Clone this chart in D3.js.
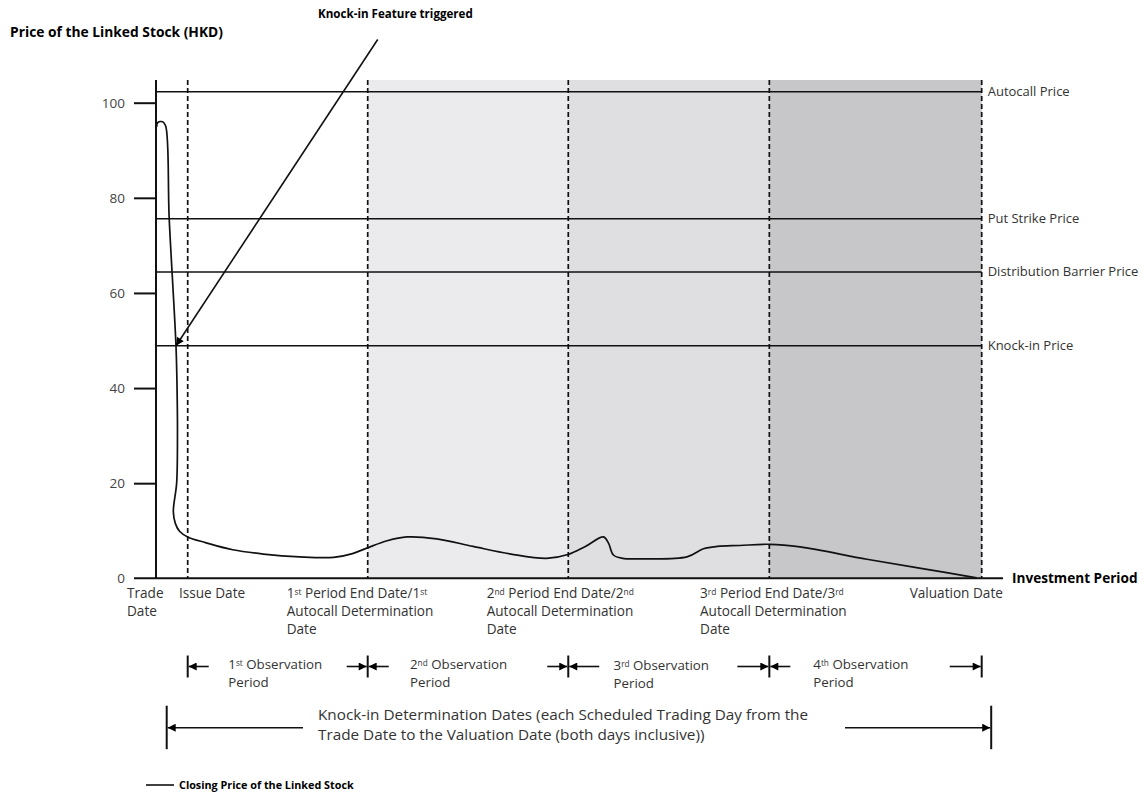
<!DOCTYPE html>
<html>
<head>
<meta charset="utf-8">
<script src="https://cdn.jsdelivr.net/npm/d3@7"></script>
<style>
body { margin: 0; background: #fff; }
text { font-family: "Open Sans", sans-serif; }
</style>
</head>
<body>
<div id="chart"></div>
<script>
// closing price path (x = position in the investment period, 0..100; y = HKD)
var priceX = [0.08, 0.2, 0.8, 1.17, 1.6, 2.42, 2.55, 2.6, 2.5, 2.1, 2.35, 2.85, 3.84, 6.0, 9.3, 13.0, 17.4, 21.5, 23.8, 25.6,
	28.0, 30.4, 34.0, 38.4, 43.0, 47.3, 49.9, 52.0, 54.2, 54.8, 55.4, 56.5, 58.6, 64.3, 66.3, 68.0, 70.7, 74.3, 78.0, 86.1, 93.0, 99.4];
var priceY = [94.9, 95.8, 96.0, 95.1, 75.6, 48.9, 40, 30, 20, 14, 11.5, 9.9, 8.7, 7.5, 6.0, 5.1, 4.5, 4.4, 5.2, 6.4,
	7.9, 8.7, 8.3, 6.7, 5.1, 4.2, 5.0, 6.7, 8.7, 7.4, 4.9, 4.2, 4.1, 4.5, 6.2, 6.7, 6.9, 7.15, 6.6, 4.0, 2.0, 0.1];

var yTicks = [0, 20, 40, 60, 80, 100];

// price levels
var levelNames = ["Autocall Price", "Put Strike Price", "Distribution Barrier Price", "Knock-in Price"];
var levelValues = [102.3, 75.6, 64.4, 48.9];

// key dates on the x axis
var dateValues = [0, 3.84, 25.64, 49.93, 74.28, 100];
var dateNames = [
	["Trade", "Date"],
	["Issue Date"],
	["1^st Period End Date/1^st", "Autocall Determination", "Date"],
	["2^nd Period End Date/2^nd", "Autocall Determination", "Date"],
	["3^rd Period End Date/3^rd", "Autocall Determination", "Date"],
	["Valuation Date"]
];
var dashedDates = [3.84, 25.64, 49.93, 74.28, 100];

// shaded autocall periods
var shadeFrom = [25.64, 49.93, 74.28];
var shadeTo = [49.93, 74.28, 100];

// observation periods
var obsFrom = [3.84, 25.64, 49.93, 74.28];
var obsTo = [25.64, 49.93, 74.28, 100];
var obsNames = ["1^st Observation", "2^nd Observation", "3^rd Observation", "4^th Observation"];

var kiText = ["Knock-in Determination Dates (each Scheduled Trading Day from the",
	"Trade Date to the Valuation Date (both days inclusive))"];

// knock-in annotation arrow (from, to) in data units
var noteFrom = [26.85, 113.3];
var noteTo = [2.42, 48.9];

// ---- layout / styles ----
var W = 1144, H = 796;
var shadeFill = ["#ebebed", "#dfdfe1", "#c7c7c9"];
var dateDx = [-29, -8.7, -81, -81.6, -69.3, -72];
var obsDx = [40.6, 42.3, 45.3, 44];
var obsArrowLen = [[21, 21], [21, 21], [31, 32], [21, 32]];

var svg = d3.select("#chart")
	.append("svg")
	.attr("width", W)
	.attr("height", H);

var defs = svg.append("defs");
defs.append("marker")
	.attr("id", "head")
	.attr("viewBox", "0 0 10 10")
	.attr("refX", 10)
	.attr("refY", 5)
	.attr("markerUnits", "userSpaceOnUse")
	.attr("markerWidth", 11)
	.attr("markerHeight", 8)
	.attr("orient", "auto")
	.append("path")
	.attr("d", "M0,0L10,5L0,10Z")
	.attr("fill", "#000");

var x = d3.scaleLinear().domain([0, 100]).range([156, 981.7]);
var y = d3.scaleLinear().domain([0, 100]).range([578.3, 102.7]);
var plotTop = 80;

// text helper: "^xx" becomes a superscript
function addRich(sel, str) {
	str.split(/(\^[a-z]+)/).forEach(function (part) {
		if (!part) return;
		if (part[0] == "^") {
			sel.append("tspan")
				.attr("baseline-shift", "35%")
				.style("font-size", "0.62em")
				.text(part.slice(1));
		} else {
			sel.append("tspan").text(part);
		}
	});
}

// shading
svg.selectAll(".shade")
	.data(shadeFrom)
	.enter()
	.append("rect")
	.attr("x", function (d) { return x(d); })
	.attr("y", plotTop)
	.attr("width", function (d, i) { return x(shadeTo[i]) - x(d); })
	.attr("height", y(0) - plotTop)
	.attr("fill", function (d, i) { return shadeFill[i]; });

// level lines
svg.selectAll(".level")
	.data(levelValues)
	.enter()
	.append("line")
	.attr("x1", x(0))
	.attr("x2", x(100))
	.attr("y1", function (d) { return y(d); })
	.attr("y2", function (d) { return y(d); })
	.attr("stroke", "#111")
	.attr("stroke-width", 1.6);

svg.selectAll(".levelLabel")
	.data(levelValues)
	.enter()
	.append("text")
	.attr("x", x(100) + 6)
	.attr("y", function (d) { return y(d); })
	.attr("dy", "0.3em")
	.style("font-size", "13px")
	.attr("fill", "#333")
	.text(function (d, i) { return levelNames[i]; });

// dashed date lines
svg.selectAll(".dash")
	.data(dashedDates)
	.enter()
	.append("line")
	.attr("x1", function (d) { return x(d); })
	.attr("x2", function (d) { return x(d); })
	.attr("y1", plotTop)
	.attr("y2", y(0))
	.attr("stroke", "#111")
	.attr("stroke-width", 1.7)
	.attr("stroke-dasharray", "5,3");

// y axis
var yAxis = svg.append("g")
	.attr("transform", "translate(" + x(0) + ",0)")
	.call(d3.axisLeft(y).tickValues(yTicks).tickSize(22).tickPadding(9));
yAxis.select(".domain").remove();
yAxis.selectAll(".tick line").attr("stroke", "#111").attr("stroke-width", 2);
yAxis.selectAll(".tick text")
	.style("font-size", "13.5px")
	.style("font-family", "Open Sans")
	.attr("fill", "#444");
yAxis.selectAll(".tick").filter(function (d) { return d == 0; }).select("line").remove();

svg.append("line")
	.attr("x1", x(0)).attr("x2", x(0))
	.attr("y1", plotTop).attr("y2", y(0))
	.attr("stroke", "#111").attr("stroke-width", 2);

// x axis
svg.append("line")
	.attr("x1", x(0) - 22).attr("x2", 1003)
	.attr("y1", y(0)).attr("y2", y(0))
	.attr("stroke", "#111").attr("stroke-width", 2);

svg.append("text")
	.attr("x", 1012)
	.attr("y", y(0))
	.attr("dy", "0.35em")
	.style("font-size", "13.6px")
	.style("font-weight", "bold")
	.text("Investment Period");

// date labels
dateValues.forEach(function (d, i) {
	var t = svg.append("text")
		.style("font-size", "13.6px")
		.attr("fill", "#333");
	dateNames[i].forEach(function (line, j) {
		var row = t.append("tspan")
			.attr("x", x(d) + dateDx[i])
			.attr("y", y(0) + 20 + j * 17.8);
		addRich(row, line);
	});
});

// price curve
var line = d3.line()
	.x(function (d, i) { return x(priceX[i]); })
	.y(function (d, i) { return y(priceY[i]); })
	.curve(d3.curveCatmullRom.alpha(0.5));

svg.append("path")
	.datum(priceY)
	.attr("d", line)
	.attr("fill", "none")
	.attr("stroke", "#111")
	.attr("stroke-width", 1.7);

// knock-in annotation
svg.append("line")
	.attr("x1", x(noteFrom[0])).attr("y1", y(noteFrom[1]))
	.attr("x2", x(noteTo[0])).attr("y2", y(noteTo[1]))
	.attr("stroke", "#111")
	.attr("stroke-width", 1.6)
	.attr("marker-end", "url(#head)");

svg.append("text")
	.attr("x", 318)
	.attr("y", 18)
	.style("font-size", "11.6px")
	.style("font-weight", "bold")
	.text("Knock-in Feature triggered");

svg.append("text")
	.attr("x", 10)
	.attr("y", 37)
	.style("font-size", "13.8px")
	.style("font-weight", "bold")
	.text("Price of the Linked Stock (HKD)");

// observation periods
var obsY = 666.5;
var bounds = obsFrom.concat([obsTo[obsTo.length - 1]]);
svg.selectAll(".obsBar")
	.data(bounds)
	.enter()
	.append("line")
	.attr("x1", function (d) { return x(d); })
	.attr("x2", function (d) { return x(d); })
	.attr("y1", obsY - 11)
	.attr("y2", obsY + 11)
	.attr("stroke", "#111")
	.attr("stroke-width", 2);

obsFrom.forEach(function (a, i) {
	var b = obsTo[i];
	svg.append("line")
		.attr("x1", x(a) + obsArrowLen[i][0]).attr("x2", x(a) + 1)
		.attr("y1", obsY).attr("y2", obsY)
		.attr("stroke", "#111").attr("stroke-width", 1.6)
		.attr("marker-end", "url(#head)");
	svg.append("line")
		.attr("x1", x(b) - obsArrowLen[i][1]).attr("x2", x(b) - 1)
		.attr("y1", obsY).attr("y2", obsY)
		.attr("stroke", "#111").attr("stroke-width", 1.6)
		.attr("marker-end", "url(#head)");
	var t = svg.append("text")
		.style("font-size", "13.3px")
		.attr("fill", "#333");
	var r1 = t.append("tspan").attr("x", x(a) + obsDx[i]).attr("y", obsY + 2 + (i == 2 ? 1.5 : 0));
	addRich(r1, obsNames[i]);
	t.append("tspan").attr("x", x(a) + obsDx[i]).attr("y", obsY + 20 + (i == 2 ? 1.5 : 0)).text("Period");
});

// knock-in determination dates
var kiY = 727.7;
[x(0) + 10.7, x(100) + 9.5].forEach(function (bx) {
	svg.append("line")
		.attr("x1", bx).attr("x2", bx)
		.attr("y1", kiY - 22).attr("y2", kiY + 21.5)
		.attr("stroke", "#111").attr("stroke-width", 2);
});
svg.append("line")
	.attr("x1", 303).attr("x2", x(0) + 11.7)
	.attr("y1", kiY).attr("y2", kiY)
	.attr("stroke", "#111").attr("stroke-width", 1.6)
	.attr("marker-end", "url(#head)");
svg.append("line")
	.attr("x1", 845).attr("x2", x(100) + 8.5)
	.attr("y1", kiY).attr("y2", kiY)
	.attr("stroke", "#111").attr("stroke-width", 1.6)
	.attr("marker-end", "url(#head)");
svg.selectAll(".kiText")
	.data(kiText)
	.enter()
	.append("text")
	.attr("x", 318)
	.attr("y", function (d, i) { return 720 + i * 19.5; })
	.style("font-size", "15.3px")
	.attr("fill", "#333")
	.text(function (d) { return d; });

// legend
svg.append("line")
	.attr("x1", 146).attr("x2", 174)
	.attr("y1", 785).attr("y2", 785)
	.attr("stroke", "#111").attr("stroke-width", 1.6);
svg.append("text")
	.attr("x", 179)
	.attr("y", 785)
	.attr("dy", "0.35em")
	.style("font-size", "10.8px")
	.style("font-weight", "bold")
	.text("Closing Price of the Linked Stock");
</script>
</body>
</html>
